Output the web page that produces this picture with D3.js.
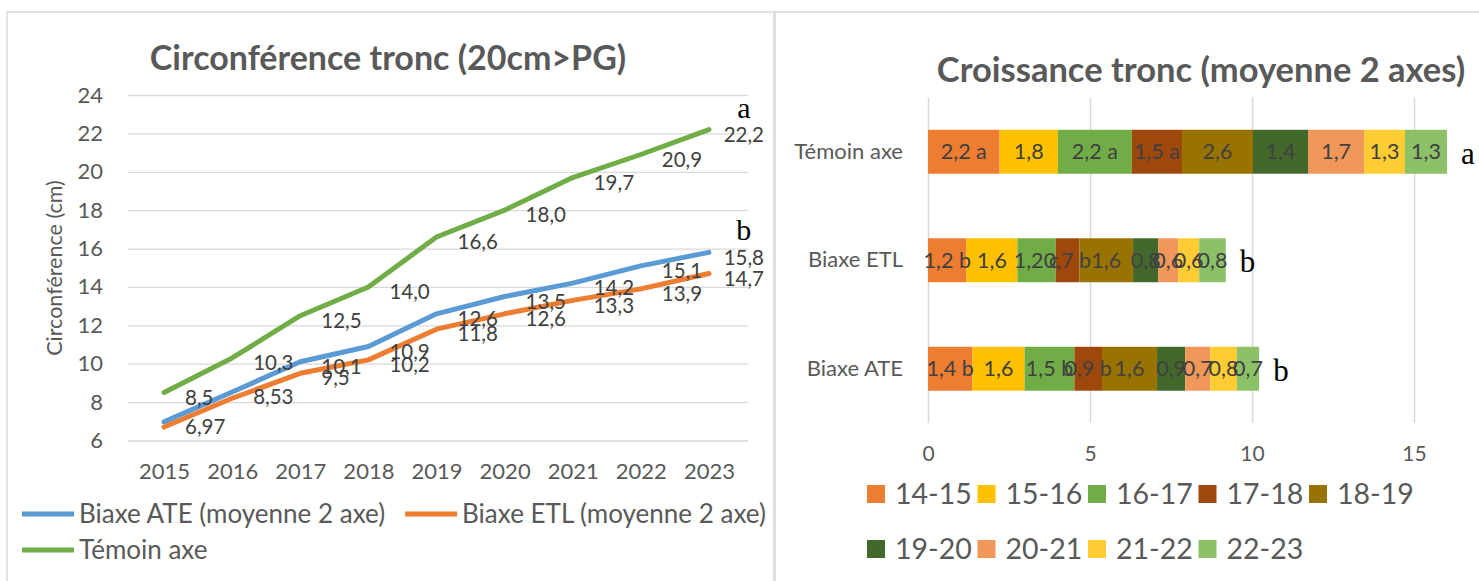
<!DOCTYPE html>
<html>
<head>
<meta charset="utf-8">
<script src="https://cdn.jsdelivr.net/npm/d3@7"></script>
<style>
  body { margin: 0; background: #fff; }
  svg { display: block; font-family: Lato, "Open Sans", sans-serif; }
</style>
</head>
<body>
<svg id="chart" width="1479" height="581"></svg>
<script>
// ---- left chart data : trunk circumference (cm)
const years = ['2015','2016','2017','2018','2019','2020','2021','2022','2023'];
const yTicks = [6,8,10,12,14,16,18,20,22,24];
const ateCirc = [6.97, 8.53, 10.1, 10.9, 12.6, 13.5, 14.2, 15.1, 15.8];
const etlCirc = [6.7, 8.2, 9.5, 10.2, 11.8, 12.6, 13.3, 13.9, 14.7];
const temoinCirc = [8.5, 10.3, 12.5, 14.0, 16.6, 18.0, 19.7, 20.9, 22.2];
const lineNames = ['Biaxe ATE (moyenne 2 axe)', 'Biaxe ETL (moyenne 2 axe)', 'Témoin axe'];
const lineLetters = ['b', null, 'a'];
const etlNoLabel = ['2015','2016'];

// ---- right chart data : yearly growth (cm)
const periods = ['14-15','15-16','16-17','17-18','18-19','19-20','20-21','21-22','22-23'];
const rowNames = ['Témoin axe','Biaxe ETL','Biaxe ATE'];
const temoinGrowth = [2.21, 1.80, 2.28, 1.55, 2.19, 1.70, 1.73, 1.26, 1.30];
const etlGrowth = [1.19, 1.57, 1.18, 0.73, 1.66, 0.78, 0.61, 0.65, 0.82];
const ateGrowth = [1.37, 1.61, 1.54, 0.85, 1.70, 0.87, 0.77, 0.82, 0.69];
const temoinText = ['2,2 a','1,8','2,2 a','1,5 a','2,6','1,4','1,7','1,3','1,3'];
const etlText = ['1,2 b','1,6','1,2 c','0,7 b','1,6','0,8','0,6','0,6','0,8'];
const ateText = ['1,4 b','1,6','1,5 b','0,9 b','1,6','0,9','0,7','0,8','0,7'];
const rowLetters = ['a','b','b'];
const xTicksR = [0,5,10,15];

const lineColors = ['#5B9BD5','#ED7D31','#70AD47'];
const periodColors = ['#ED7D31','#FFC000','#70AD47','#9E480E','#997300','#43682B','#F1975A','#FFCD33','#8CC168'];
const txt = '#595959', lab = '#404040', grid = '#D9D9D9';

const fmt = v => {
  let s = Math.abs(v*10 - Math.round(v*10)) < 1e-9 ? v.toFixed(1) : v.toFixed(2);
  return s.replace('.', ',');
};

const svg = d3.select('#chart');

// frames
svg.append('rect').attr('x',7).attr('y',12).attr('width',767).attr('height',600)
   .attr('fill','none').attr('stroke',grid).attr('stroke-width',1.5);
svg.append('rect').attr('x',775).attr('y',12).attr('width',720).attr('height',600)
   .attr('fill','none').attr('stroke',grid).attr('stroke-width',1.5);

// =================== LEFT : line chart
const x = d3.scalePoint().domain(years).range([130,743]).padding(0.5);
const y = d3.scaleLinear().domain([6,24]).range([440.5,95]);

svg.append('text').attr('x',388).attr('y',70).attr('text-anchor','middle')
   .attr('font-size',34).attr('font-weight','bold').attr('fill',txt)
   .text('Circonférence tronc (20cm>PG)');

let yAxis = svg.append('g').attr('transform','translate(128,0)')
  .call(d3.axisLeft(y).tickValues(yTicks).tickSize(-620).tickPadding(25));
yAxis.select('.domain').remove();
yAxis.selectAll('line').attr('stroke',grid).attr('stroke-width',1.3);
yAxis.selectAll('text').attr('font-size',22).attr('fill',txt).attr('font-family','Lato');

let xAxis = svg.append('g').attr('transform','translate(0,440.5)')
  .call(d3.axisBottom(x).tickSize(0).tickPadding(23));
xAxis.select('.domain').remove();
xAxis.selectAll('text').attr('font-size',22).attr('fill',txt).attr('font-family','Lato');

svg.append('text').attr('transform','translate(62,268) rotate(-90)')
   .attr('text-anchor','middle').attr('font-size',21.5).attr('fill',txt)
   .text('Circonférence (cm)');

const lineSeries = [ateCirc, etlCirc, temoinCirc];
const line = d3.line().x((d,i) => x(years[i])).y(d => y(d));

lineSeries.forEach((vals,k) => {
  svg.append('path').datum(vals).attr('d',line).attr('fill','none')
     .attr('stroke',lineColors[k]).attr('stroke-width',5)
     .attr('stroke-linejoin','round').attr('stroke-linecap','round');
});

lineSeries.forEach((vals,k) => {
  let g = svg.append('g');
  vals.forEach((v,i) => {
    if (k === 1 && etlNoLabel.includes(years[i])) return;
    let t = g.append('text').attr('font-size',20.5).attr('fill',lab)
      .attr('dy','0.35em').attr('y', y(v) + 5).text(fmt(v));
    let w = t.node().getComputedTextLength();
    let lx = Math.min(x(years[i]) + 21, 764 - w);
    t.attr('x', lx);
    if (i === vals.length - 1 && lineLetters[k]) {
      svg.append('text').attr('x', lx + w/2).attr('y', y(v) + 5 - 17)
         .attr('text-anchor','middle').attr('font-family','"Liberation Serif", serif')
         .attr('font-size',30).attr('fill','#000').text(lineLetters[k]);
    }
  });
});

// legend left
const legRows = [[0,1],[2]];
legRows.forEach((row,r) => {
  let lx = 22, ly = 514 + r*36;
  row.forEach(k => {
    svg.append('line').attr('x1',lx).attr('x2',lx+52).attr('y1',ly).attr('y2',ly)
       .attr('stroke',lineColors[k]).attr('stroke-width',5);
    let t = svg.append('text').attr('x',lx+57).attr('y',ly).attr('dy','0.35em')
       .attr('font-size',26).attr('fill',txt).text(lineNames[k]);
    lx = lx + 57 + t.node().getComputedTextLength() + 20;
  });
});

// =================== RIGHT : stacked bars
const table = rowNames.map((r,i) => {
  let row = {row: r};
  let src = [temoinGrowth, etlGrowth, ateGrowth][i];
  periods.forEach((p,j) => row[p] = src[j]);
  return row;
});
const texts = [temoinText, etlText, ateText];
const stack = d3.stack().keys(periods)(table);

const xr = d3.scaleLinear().domain([0,15]).range([928,1414]);
const yr = d3.scaleBand().domain(rowNames).range([97.5,423]).paddingInner(0.595).paddingOuter(0.2975);

svg.append('text').attr('x',1201).attr('y',82).attr('text-anchor','middle')
   .attr('font-size',34.5).attr('font-weight','bold').attr('fill',txt)
   .text('Croissance tronc (moyenne 2 axes)');

let xrAxis = svg.append('g').attr('transform','translate(0,423)')
  .call(d3.axisBottom(xr).tickValues(xTicksR).tickSize(-325.5).tickPadding(23));
xrAxis.select('.domain').remove();
xrAxis.selectAll('line').attr('stroke',grid).attr('stroke-width',1.5);
xrAxis.selectAll('text').attr('font-size',21).attr('fill',txt).attr('font-family','Lato');

let yrAxis = svg.append('g').attr('transform','translate(928,0)')
  .call(d3.axisLeft(yr).tickSize(0).tickPadding(25));
yrAxis.select('.domain').remove();
yrAxis.selectAll('text').attr('font-size',22).attr('fill',txt).attr('font-family','Lato');

stack.forEach((s,j) => {
  svg.append('g').selectAll('rect').data(s).enter().append('rect')
    .attr('x', d => xr(d[0])).attr('width', d => xr(d[1]) - xr(d[0]))
    .attr('y', d => yr(d.data.row)).attr('height', yr.bandwidth())
    .attr('fill', periodColors[j]);
});
stack.forEach((s,j) => {
  svg.append('g').selectAll('text').data(s).enter().append('text')
    .attr('x', d => (xr(d[0]) + xr(d[1]))/2)
    .attr('y', d => yr(d.data.row) + yr.bandwidth()/2).attr('dy','0.35em')
    .attr('text-anchor','middle').attr('font-size',21.5).attr('fill',lab)
    .text((d,i) => texts[i][j]);
});

// significance letters
const last = stack[stack.length-1];
svg.append('g').selectAll('text').data(last).enter().append('text')
  .attr('x', d => xr(d[1]) + 14)
  .attr('y', d => yr(d.data.row) + yr.bandwidth()/2 + 12)
  .attr('font-family','"Liberation Serif", serif').attr('font-size',31).attr('fill','#000')
  .text((d,i) => rowLetters[i]);

// legend right
periods.forEach((p,j) => {
  let col = j < 5 ? j : j - 5, row = j < 5 ? 0 : 1;
  let lx = 867 + col*110.5, ly = 494 + row*55;
  svg.append('rect').attr('x',lx).attr('y',ly-9).attr('width',18).attr('height',18)
     .attr('fill',periodColors[j]);
  svg.append('text').attr('x',lx+28).attr('y',ly).attr('dy','0.35em')
     .attr('font-size',28.5).attr('fill',txt).text(p);
});
</script>
</body>
</html>
